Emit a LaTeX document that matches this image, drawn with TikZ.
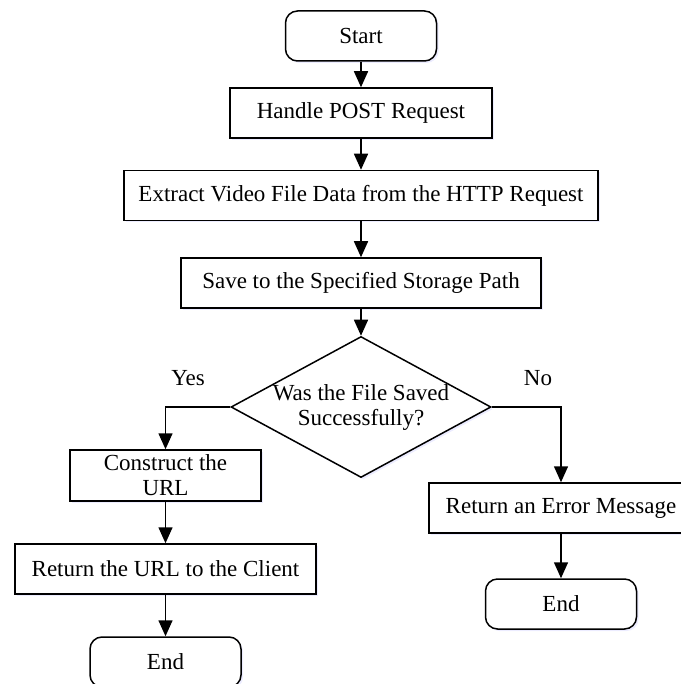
\documentclass[tikz,border=0pt]{standalone}
\usepackage{fontspec}
\setmainfont{Liberation Serif}
\usepackage{tikz}
\usetikzlibrary{positioning,shapes.geometric,shadows,arrows.meta}

\begin{document}
\begin{tikzpicture}[x=1pt, y=-1pt, font=\fontsize{23}{25}\selectfont,
    box/.style={rectangle, draw, fill=white, line width=1.5pt, align=center, inner sep=0pt, minimum height=50pt,
                drop shadow={shadow xshift=2pt, shadow yshift=-2pt, fill=blue!30, opacity=0.25}},
    term/.style={box, rounded corners=12pt, minimum width=151pt},
    flow/.style={line width=1.5pt, -{Triangle[length=16pt, width=14pt]}}]
    \useasboundingbox (0,0) rectangle (680,684);

    \node[term] (start) at (361,36) {Start};
    \node[box, minimum width=262pt] (handle) at (361,113) {Handle POST Request};
    \node[box, minimum width=474pt] (extract) at (361,195.5) {Extract Video File Data from the HTTP Request};
    \node[box, minimum width=360pt] (save) at (361,283) {Save to the Specified Storage Path};

    \node[diamond, draw, fill=white, line width=1.5pt, inner sep=0pt, minimum width=260pt, minimum height=141pt,
          drop shadow={shadow xshift=2pt, shadow yshift=-2pt, fill=blue!30, opacity=0.25}] (check) at (361,407) {};
    \node[align=center] (checktext) at (check) {Was the File Saved\\Successfully?};
    \node (yes) at (188,378) {Yes};
    \node (no) at (538,378) {No};

    \node[box, minimum width=191pt, minimum height=51pt] (build) at (165.5,475.5) {Construct the\\URL};
    \node[box, minimum width=301pt] (reply) at (165.5,569) {Return the URL to the Client};
    \node[term] (end1) at (165.5,662) {End};

    \node[box, minimum width=264pt] (err) at (561,508) {Return an Error Message};
    \node[term] (end2) at (561,604) {End};

    \draw[flow] (start) -- (handle);
    \draw[flow] (handle) -- (extract);
    \draw[flow] (extract) -- (save);
    \draw[flow] (save) -- (check);
    \draw[flow] (check.west) -| (build.north);
    \draw[flow] (check.east) -| (err.north);
    \draw[flow] (build) -- (reply);
    \draw[flow] (reply) -- (end1);
    \draw[flow] (err) -- (end2);
\end{tikzpicture}
\end{document}
